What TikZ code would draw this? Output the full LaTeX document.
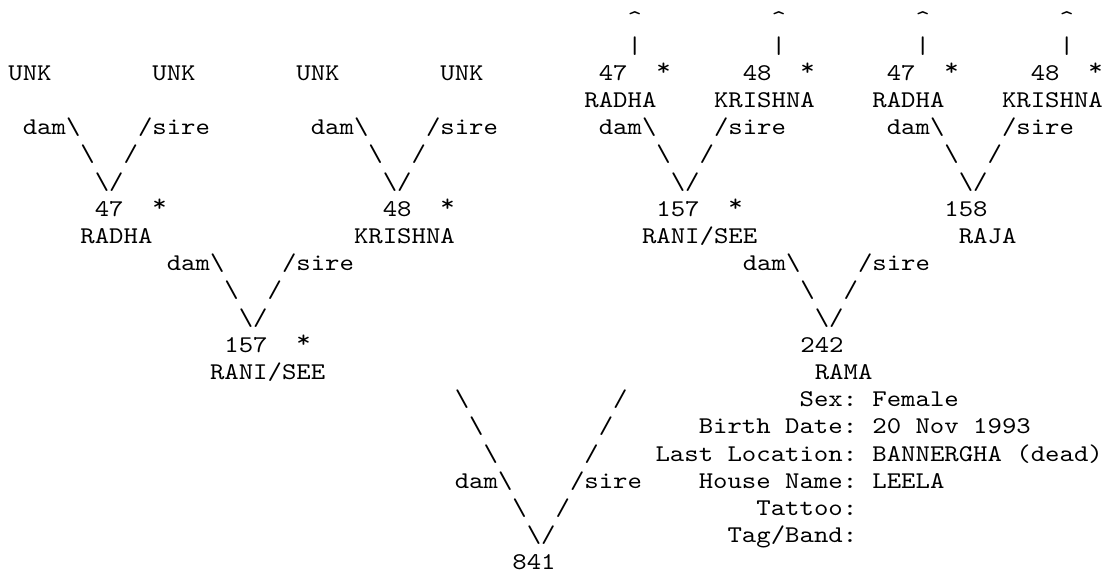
\documentclass[tikz,border=0pt]{standalone}
\usepackage{fontspec}
\newfontfamily\pedfont{lmmono10-regular.otf}[FakeStretch=1.143]
\usepackage{xcolor}
\definecolor{cInk}{HTML}{000000}

\begin{document}
\begin{tikzpicture}[x=7.2pt, y=-13.595pt,
    every node/.style={font=\pedfont\fontsize{12pt}{13.6pt}\selectfont,
      text=cInk, inner sep=0pt, anchor=base west},
    lbl/.style={anchor=base east},
    mark star/.style={yshift=2.5pt}]
  \useasboundingbox (-4pt,13pt) rectangle (550pt,-274pt);

  % pointers to older generations
  \foreach \c [count=\i] in {43,53,63,73} {
    \node (up\i) at (\c,0) {\textasciicircum};
    \node (bar\i) at (\c,1) {|};
  }

  % unknown parents
  \foreach \c [count=\i] in {0,10,20,30}
    \node (unk\i) at (\c,2) {UNK};

  % dam/sire joins
  \foreach \c/\r/\n in {1/4/a, 21/4/b, 41/4/c, 61/4/d, 11/9/e, 51/9/f, 31/17/g} {
    \node (dam\n) at (\c,\r) {dam\textbackslash};
    \node (sire\n) at (\c+8,\r) {/sire};
    \node (dl\n) at (\c+4,\r+1) {\textbackslash};
    \node (sl\n) at (\c+7,\r+1) {/};
    \node (v\n) at (\c+5,\r+2) {\textbackslash/};
  }
  % long legs above 841
  \foreach \k in {0,1,2} {
    \node (gl\k) at (31+\k,14+\k) {\textbackslash};
    \node (gr\k) at (42-\k,14+\k) {/};
  }

  % animals: number and name
  \foreach \c/\r/\id/\nc/\nm [count=\i] in {41/2/47/40/RADHA, 51/2/48/49/KRISHNA,
      61/2/47/60/RADHA, 71/2/48/69/KRISHNA, 6/7/47/5/RADHA, 26/7/48/24/KRISHNA,
      45/7/157/44/{RANI/SEE}, 65/7/158/66/RAJA, 15/12/157/14/{RANI/SEE},
      55/12/242/56/RAMA} {
    \node (id\i) at (\c,\r) {\id};
    \node (nm\i) at (\nc,\r+1) {\nm};
  }
  \node (id841) at (35,20) {841};

  % stars
  \foreach \c/\r [count=\i] in {45/2, 55/2, 65/2, 75/2, 10/7, 30/7, 50/7, 20/12}
    \node[mark star] (star\i) at (\c,\r) {*};

  % details of 242
  \foreach \r/\k/\v [count=\i] in {14/Sex:/Female, 15/Birth Date:/20 Nov 1993,
      16/Last Location:/BANNERGHA (dead), 17/House Name:/LEELA, 18/Tattoo:/,
      19/{Tag/Band:}/} {
    \node[lbl] (key\i) at (59,\r) {\k};
    \node (val\i) at (60,\r) {\v};
  }
\end{tikzpicture}
\end{document}
